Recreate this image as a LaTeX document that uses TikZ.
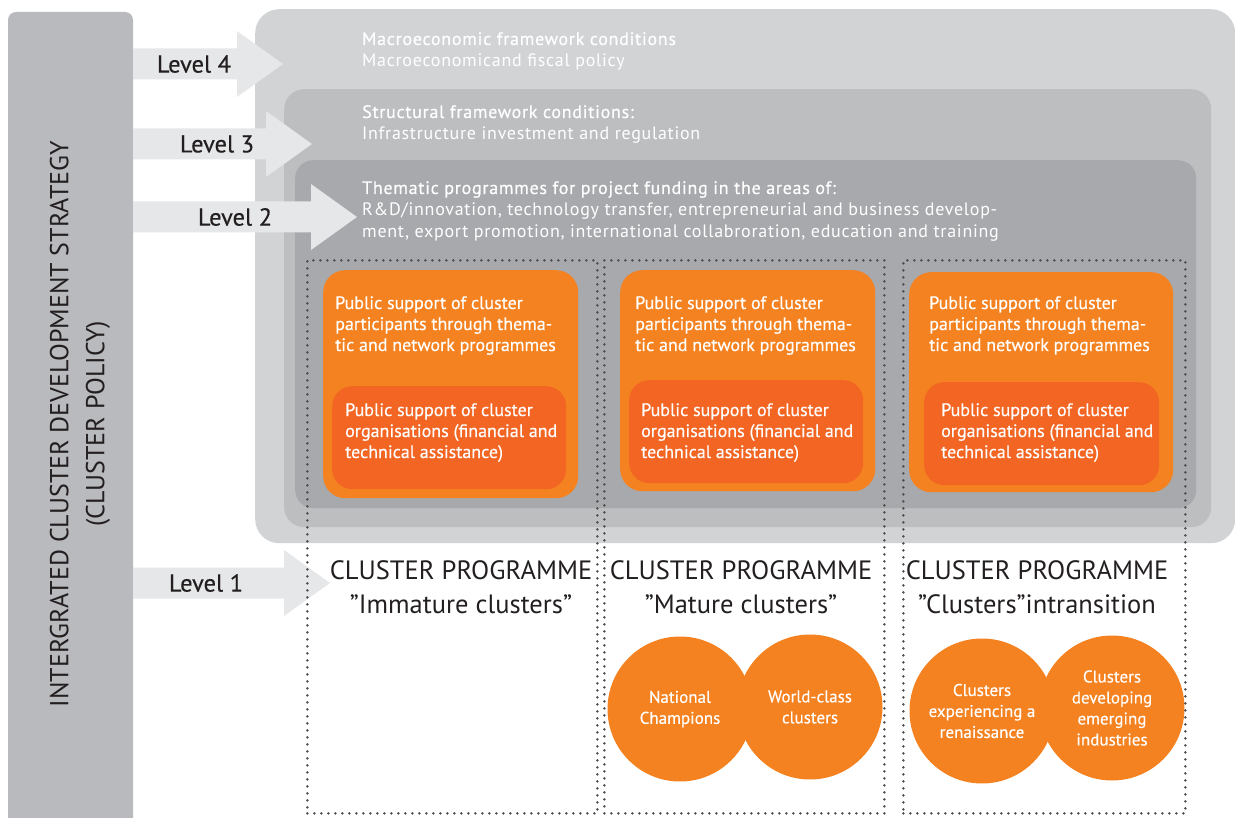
\documentclass[tikz,border=0pt]{standalone}
\usepackage{fontspec}
\setmainfont{PT Sans}
\newfontfamily\headfont{PT Sans}[LetterSpace=4]
\newfontfamily\headmedfont{PT Sans}[LetterSpace=4, FakeBold=0.5]
\newfontfamily\medfont{PT Sans}[FakeBold=0.4]
\usetikzlibrary{positioning,calc}

\definecolor{barGrey}{HTML}{B9BABD}
\definecolor{lvlFour}{HTML}{D1D3D4}
\definecolor{lvlThree}{HTML}{BCBEC0}
\definecolor{lvlTwo}{HTML}{A7A9AC}
\definecolor{arrowGrey}{HTML}{E6E7E8}
\definecolor{progOrange}{HTML}{F58220}
\definecolor{orgOrange}{HTML}{F26522}
\definecolor{dotGrey}{HTML}{4D4D4F}
\definecolor{inkDark}{HTML}{231F20}

\tikzset{
    panel/.style={
           rectangle,
           rounded corners=20pt,
           inner sep=0pt,
           anchor=north west,
           },
    progbox/.style={
           rectangle,
           rounded corners=22pt,
           fill=progOrange,
           inner sep=0pt,
           anchor=north west,
           },
    orgbox/.style={
           rectangle,
           rounded corners=20pt,
           fill=orgOrange,
           inner sep=0pt,
           anchor=north west,
           },
    colframe/.style={
           rectangle,
           draw=dotGrey,
           line width=2.8pt,
           line cap=round,
           dash pattern=on 0pt off 7pt,
           inner sep=0pt,
           anchor=north west,
           },
    boxtext/.style={
              text=white,
              align=left,
              inner sep=0pt,
              anchor=base west,
              font=\medfont\fontsize{18}{21}\selectfont
              },
    headtext/.style={
              text=white,
              align=left,
              inner sep=0pt,
              anchor=base west,
              font=\headfont\fontsize{18}{22}\selectfont
              },
    ball/.style={
                  circle,
                  fill=progOrange,
                  minimum size=145pt,
                  inner sep=0pt,
                  text=white,
                  align=center,
                  font=\medfont\fontsize{17}{21}\selectfont
                  },
    progtitle/.style={
                  text=inkDark,
                  align=center,
                  inner sep=0pt,
                  anchor=base,
                  font=\fontsize{26.5}{34}\selectfont
                  },
}

\begin{document}
\begin{tikzpicture}[x=1pt, y=-1pt]
  \tikzstyle{lvltext} = [text=inkDark, inner sep=0pt, font=\medfont\fontsize{24.5}{28}\selectfont]
  \useasboundingbox (0,0) rectangle (1235,818);
  \clip (0,0) rectangle (1235,818);

  % strategy bar on the left
  \fill[barGrey, rounded corners=8pt] (8,840) -- (8,12) -- (133,12) -- (133,840) -- cycle;
  \node[rotate=90, align=center, text=inkDark, font=\fontsize{26}{36}\selectfont] (strat) at (80,424)
     {INTERGRATED CLUSTER DEVELOPMENT STRATEGY\\(CLUSTER POLICY)};

  % nested framework panels
  \node[panel, fill=lvlFour,  rounded corners=24pt, minimum width=980pt, minimum height=534pt] (l4) at (255,9)   {};
  \node[panel, fill=lvlThree, minimum width=927pt, minimum height=438pt] (l3) at (284,89)  {};
  \node[panel, fill=lvlTwo,   rounded corners=18pt, minimum width=901pt, minimum height=348pt] (l2) at (295,160) {};

  % level arrows
  \foreach \tip/\mid/\lx/\n in {283/64/194/4, 312/144/217/3, 357/217/235/2, 330/583/206/1} {
    \fill[arrowGrey] (133,\mid-15.5) -- (\tip-46,\mid-15.5) -- (\tip-46,\mid-33) -- (\tip,\mid)
       -- (\tip-46,\mid+33) -- (\tip-46,\mid+15.5) -- (133,\mid+15.5) -- cycle;
    \node[lvltext] (lv\n) at (\lx,\mid) {Level \n};
  }

  % base anchor sits on the last line
  \node[headtext] (h4) at (362,67)  {{\headmedfont Macroeconomic framework conditions}\\Macroeconomicand fiscal policy};
  \node[headtext] (h3) at (362,140) {{\headmedfont Structural framework conditions:}\\Infrastructure investment and regulation};
  \node[headtext] (h2) at (362,238) {{\headmedfont Thematic programmes for project funding in the areas of:}\\
     R\&D/innovation, technology transfer, entrepreneurial and business develop-\\
     ment, export promotion, international collabroration, education and training};

  % programme boxes
  \node[progbox, minimum width=255pt, minimum height=228pt] (p1) at (323,270) {};
  \node[orgbox,  minimum width=234pt, minimum height=103pt] (o1) at (332,386) {};
  \node[progbox, minimum width=255pt, minimum height=221pt] (p2) at (620,270) {};
  \node[orgbox,  minimum width=234pt, minimum height=103pt] (o2) at (629,380) {};
  \node[progbox, minimum width=264pt, minimum height=220pt] (p3) at (909,272) {};
  \node[orgbox,  minimum width=235pt, minimum height=103pt] (o3) at (924,382) {};

  \node[boxtext] (pt1) at ($(p1.north west)+(12,81)$) {Public support of cluster\\participants through thema-\\tic and network programmes};
  \node[boxtext] (ot1) at ($(o1.north west)+(13,72)$) {Public support of cluster\\organisations (financial and\\technical assistance)};
  \node[boxtext] (pt2) at ($(p2.north west)+(15,81)$) {Public support of cluster\\participants through thema-\\tic and network programmes};
  \node[boxtext] (ot2) at ($(o2.north west)+(12,78)$) {Public support of cluster\\organisations (financial and\\technical assistance)};
  \node[boxtext] (pt3) at ($(p3.north west)+(20,79)$) {Public support of cluster\\participants through thema-\\tic and network programmes};
  \node[boxtext] (ot3) at ($(o3.north west)+(17,76)$) {Public support of cluster\\organisations (financial and\\technical assistance)};

  % cluster types
  \node[ball] (nc) at (680,709)  {National\\Champions};
  \node[ball] (wc) at (810,707)  {World-class\\clusters};
  \node[ball] (rc) at (982,711)  {Clusters\\experiencing a\\renaissance};
  \node[ball] (ec) at (1112,708) {Clusters\\developing\\emerging\\industries};

  % programme columns
  \node[colframe, minimum width=290pt, minimum height=553pt] (c1) at (306,259) {};
  \node[colframe, minimum width=280pt, minimum height=553pt] (c2) at (603,259) {};
  \node[colframe, minimum width=282pt, minimum height=553pt] (c3) at (902,259) {};

  \node[progtitle] (t1) at (461,613)  {CLUSTER PROGRAMME\\”Immature clusters”};
  \node[progtitle] (t2) at (741,613)  {CLUSTER PROGRAMME\\”Mature clusters”};
  \node[progtitle] (t3) at (1037,613) {CLUSTER PROGRAMME\\”Clusters”intransition};
\end{tikzpicture}
\end{document}
